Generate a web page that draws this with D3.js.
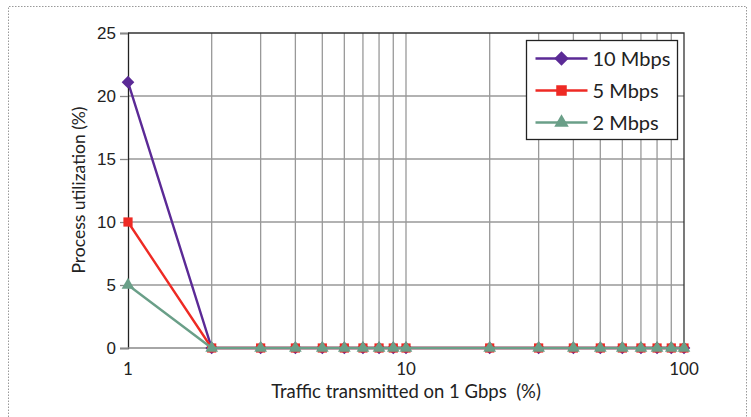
<!DOCTYPE html>
<html>
<head>
<meta charset="utf-8">
<script src="https://cdn.jsdelivr.net/npm/d3@7"></script>
<style>
  body { margin: 0; background: #fff; }
  svg { display: block; font-family: Lato, "Noto Sans", sans-serif; }
</style>
</head>
<body>
<svg id="chart" width="751" height="417"></svg>
<script>
// x values (traffic %, log scale)
const traffic = [1, 2, 3, 4, 5, 6, 7, 8, 9, 10, 20, 30, 40, 50, 60, 70, 80, 90, 100];
const util10 = [21.1, 0, 0, 0, 0, 0, 0, 0, 0, 0, 0, 0, 0, 0, 0, 0, 0, 0, 0];
const util5  = [10, 0, 0, 0, 0, 0, 0, 0, 0, 0, 0, 0, 0, 0, 0, 0, 0, 0, 0];
const util2  = [5, 0, 0, 0, 0, 0, 0, 0, 0, 0, 0, 0, 0, 0, 0, 0, 0, 0, 0];
const yTicks = [0, 5, 10, 15, 20, 25];
const xTickLabels = [1, 10, 100];
const gridX = [2, 3, 4, 5, 6, 7, 8, 9, 10, 20, 30, 40, 50, 60, 70, 80, 90];

// square diamond (rotated square), d3's own diamond is too tall
const squareDiamond = {
  draw(ctx, size) {
    const r = Math.sqrt(size / 2);
    ctx.moveTo(0, -r); ctx.lineTo(r, 0); ctx.lineTo(0, r); ctx.lineTo(-r, 0); ctx.closePath();
  }
};

const series = [
  { name: '10 Mbps', values: util10, color: '#5b2a96', symbol: squareDiamond,   size: 80 },
  { name: '5 Mbps',  values: util5,  color: '#ee2a24', symbol: d3.symbolSquare,  size: 85 },
  { name: '2 Mbps',  values: util2,  color: '#6a9f88', symbol: d3.symbolTriangle, size: 70 },
];

const margin = { top: 33, right: 67, bottom: 69, left: 128 };
const svg = d3.select('#chart');
const W = +svg.attr('width'), H = +svg.attr('height');
const width = W - margin.left - margin.right;
const height = H - margin.top - margin.bottom;

// dotted frame
svg.append('path')
  .attr('d', `M8.5,${H} V6.5 H746.5 V${H}`)
  .attr('fill', 'none')
  .attr('stroke', '#999')
  .attr('stroke-width', 1)
  .attr('stroke-dasharray', '1.5,1.5');

const x = d3.scaleLog().domain([1, 100]).range([0, width]);
const y = d3.scaleLinear().domain([0, 25]).range([height, 0]);

const g = svg.append('g').attr('transform', `translate(${margin.left},${margin.top})`);

// grid
g.selectAll('.gx').data(gridX).enter().append('line')
  .attr('x1', d => x(d)).attr('x2', d => x(d))
  .attr('y1', 0).attr('y2', height)
  .attr('stroke', '#999').attr('stroke-width', 1.3);
g.selectAll('.gy').data(yTicks.filter(v => v > 0 && v < 25)).enter().append('line')
  .attr('x1', 0).attr('x2', width)
  .attr('y1', d => y(d)).attr('y2', d => y(d))
  .attr('stroke', '#999').attr('stroke-width', 1.3);

// top and right border
g.append('path')
  .attr('d', `M0,${y(25)} H${width} V${height}`)
  .attr('fill', 'none').attr('stroke', '#333').attr('stroke-width', 1.3);

// y axis
const yAxis = g.append('g')
  .call(d3.axisLeft(y).tickValues(yTicks).tickSize(8).tickPadding(4));
yAxis.select('.domain').attr('stroke', '#222').attr('stroke-width', 1.3);
yAxis.selectAll('.tick line').attr('stroke', '#888').attr('stroke-width', 1.3);
yAxis.selectAll('.tick text').attr('font-size', 17).attr('fill', '#222').attr('font-family', null);

// bottom axis line
g.append('line')
  .attr('x1', 0).attr('x2', width).attr('y1', height).attr('y2', height)
  .attr('stroke', '#888').attr('stroke-width', 1.3);

// x tick labels
g.selectAll('.xl').data(xTickLabels).enter().append('text')
  .attr('x', d => x(d)).attr('y', height + 27)
  .attr('text-anchor', 'middle')
  .attr('font-size', 17).attr('fill', '#222')
  .text(d => d);

// lines and markers
const line = d3.line().x(d => x(d[0])).y(d => y(d[1]));
series.forEach(s => {
  const pts = traffic.map((t, i) => [t, s.values[i]]);
  g.append('path').datum(pts)
    .attr('d', line)
    .attr('fill', 'none').attr('stroke', s.color).attr('stroke-width', 2.4);
  g.selectAll(null).data(pts).enter().append('path')
    .attr('transform', d => `translate(${x(d[0])},${y(d[1])})`)
    .attr('d', d3.symbol().type(s.symbol).size(s.size))
    .attr('fill', s.color);
});

// legend
const lg = svg.append('g').attr('transform', 'translate(526.5,40.5)');
lg.append('rect').attr('width', 151).attr('height', 99)
  .attr('fill', '#fff').attr('stroke', '#222').attr('stroke-width', 1.3);
series.forEach((s, i) => {
  const row = lg.append('g').attr('transform', `translate(0,${18 + i * 32})`);
  row.append('line').attr('x1', 9).attr('x2', 61).attr('y1', 0).attr('y2', 0)
    .attr('stroke', s.color).attr('stroke-width', 2.4);
  row.append('path').attr('transform', 'translate(35,0)')
    .attr('d', d3.symbol().type(s.symbol).size(s.size * 1.3))
    .attr('fill', s.color);
  row.append('text').attr('x', 66).attr('y', 7)
    .attr('font-size', 20).attr('fill', '#222')
    .text(s.name);
});

// axis titles
svg.append('text')
  .attr('x', 406).attr('y', 398)
  .attr('text-anchor', 'middle')
  .attr('font-size', 18.5).attr('fill', '#222')
  .text('Traffic transmitted on 1 Gbps\u00a0\u00a0(%)');
svg.append('text')
  .attr('transform', 'translate(85,190) rotate(-90)')
  .attr('text-anchor', 'middle')
  .attr('font-size', 17.5).attr('fill', '#222')
  .text('Process utilization (%)');
</script>
</body>
</html>
